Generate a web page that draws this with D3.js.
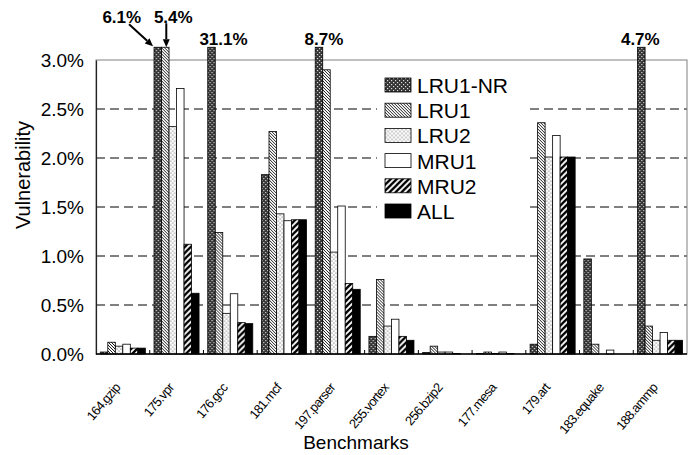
<!DOCTYPE html>
<html>
<head>
<meta charset="utf-8">
<script src="https://cdn.jsdelivr.net/npm/d3@7"></script>
<style>
  body { margin: 0; background: #fff; }
  text { font-family: Arial, "Liberation Sans", sans-serif; fill: #000; }
</style>
</head>
<body>
<div id="chart"></div>
<script>
'use strict';

var benchmarks = ["164.gzip", "175.vpr", "176.gcc", "181.mcf", "197.parser", "255.vortex",
                  "256.bzip2", "177.mesa", "179.art", "183.equake", "188.ammp"];
var series = ["LRU1-NR", "LRU1", "LRU2", "MRU1", "MRU2", "ALL"];

// vulnerability in percent, one value per benchmark
var lru1nr = [0.02, 6.1, 31.1, 1.83, 8.7, 0.18, 0.015, 0.005, 0.10, 0.97, 4.7];
var lru1   = [0.12, 5.4, 1.24, 2.27, 2.9, 0.76, 0.08, 0.02, 2.36, 0.10, 0.285];
var lru2   = [0.08, 2.32, 0.415, 1.43, 1.04, 0.285, 0.02, 0.005, 2.01, 0.0, 0.14];
var mru1   = [0.10, 2.71, 0.615, 1.36, 1.51, 0.355, 0.02, 0.02, 2.23, 0.04, 0.22];
var mru2   = [0.06, 1.12, 0.32, 1.37, 0.72, 0.18, 0.005, 0.005, 2.01, 0.0, 0.14];
var all    = [0.06, 0.62, 0.31, 1.37, 0.66, 0.14, 0.0, 0.0, 2.01, 0.0, 0.14];

var yTicks = [0, 0.5, 1.0, 1.5, 2.0, 2.5, 3.0];

var values = [lru1nr, lru1, lru2, mru1, mru2, all];

var W = 694, H = 455;
var plotL = 96, plotR = 687, plotT = 60, plotB = 354;
var barCap = 3.13; // bars above the axis are cut here

var svg = d3.select("#chart").append("svg")
    .attr("width", W)
    .attr("height", H);

// ---- patterns
var defs = svg.append("defs");

var p = defs.append("pattern").attr("id", "p0")
    .attr("patternUnits", "userSpaceOnUse").attr("width", 4).attr("height", 4);
p.append("rect").attr("width", 4).attr("height", 4).attr("fill", "#333");
p.append("rect").attr("x", 0).attr("y", 0).attr("width", 1.2).attr("height", 1.2).attr("fill", "#ddd");
p.append("rect").attr("x", 2).attr("y", 2).attr("width", 1.2).attr("height", 1.2).attr("fill", "#ddd");

p = defs.append("pattern").attr("id", "p1")
    .attr("patternUnits", "userSpaceOnUse").attr("width", 3).attr("height", 3);
p.append("rect").attr("width", 3).attr("height", 3).attr("fill", "#fff");
p.append("path").attr("d", "M0,0L3,3M-1,2L1,4M2,-1L4,1")
    .attr("stroke", "#000").attr("stroke-width", 0.9);

p = defs.append("pattern").attr("id", "p2")
    .attr("patternUnits", "userSpaceOnUse").attr("width", 4).attr("height", 4);
p.append("rect").attr("width", 4).attr("height", 4).attr("fill", "#fafafa");
p.append("circle").attr("cx", 1).attr("cy", 1).attr("r", 0.55).attr("fill", "#444");
p.append("circle").attr("cx", 3).attr("cy", 3).attr("r", 0.55).attr("fill", "#444");

p = defs.append("pattern").attr("id", "p4")
    .attr("patternUnits", "userSpaceOnUse").attr("width", 6).attr("height", 6);
p.append("rect").attr("width", 6).attr("height", 6).attr("fill", "#fff");
p.append("path").attr("d", "M-1,7L7,-1M-4,4L4,-4M2,10L10,2")
    .attr("stroke", "#000").attr("stroke-width", 2.3);

var fills = ["url(#p0)", "url(#p1)", "url(#p2)", "#fff", "url(#p4)", "#000"];

// ---- scales
var x0 = d3.scaleBand().domain(benchmarks).range([plotL, plotR]).padding(0);
var x1 = d3.scaleBand().domain(series).range([4.3, x0.bandwidth() - 4.4]).padding(0);
var y = d3.scaleLinear().domain([0, 3]).range([plotB, plotT]);

// ---- grid
svg.append("g").selectAll("line")
    .data(yTicks.filter(function(d) { return d > 0 && d < 3; }))
    .enter().append("line")
    .attr("x1", plotL).attr("x2", plotR)
    .attr("y1", function(d) { return y(d); })
    .attr("y2", function(d) { return y(d); })
    .attr("stroke", "#000")
    .attr("stroke-width", 1)
    .attr("stroke-dasharray", "9,5");

// frame
svg.append("rect")
    .attr("x", plotL).attr("y", plotT)
    .attr("width", plotR - plotL).attr("height", plotB - plotT)
    .attr("fill", "none").attr("stroke", "#808080").attr("stroke-width", 1);

// ---- bars
var groups = svg.append("g").selectAll("g")
    .data(benchmarks)
    .enter().append("g")
    .attr("transform", function(d) { return "translate(" + x0(d) + ",0)"; });

groups.selectAll("rect")
    .data(function(d, i) {
        return series.map(function(s, j) { return { s: s, j: j, v: values[j][i] }; });
    })
    .enter().append("rect")
    .attr("x", function(d) { return x1(d.s); })
    .attr("width", x1.bandwidth())
    .attr("y", function(d) { return y(Math.min(d.v, barCap)); })
    .attr("height", function(d) { return plotB - y(Math.min(d.v, barCap)); })
    .attr("fill", function(d) { return fills[d.j]; })
    .attr("stroke", "#000")
    .attr("stroke-width", 0.8);

// ---- axes
var yAxis = d3.axisLeft(y).tickValues(yTicks).tickSize(0).tickPadding(12)
    .tickFormat(function(d) { return d3.format(".1f")(d) + "%"; });
var gy = svg.append("g").attr("transform", "translate(" + plotL + ",0)").call(yAxis);
gy.select(".domain").attr("stroke", "#222").attr("stroke-width", 1.2);
gy.selectAll("text").style("font-size", "19px").attr("font-family", null);

// bottom axis with ticks at group boundaries, pointing inward
svg.append("line")
    .attr("x1", plotL).attr("x2", plotR)
    .attr("y1", plotB).attr("y2", plotB)
    .attr("stroke", "#000").attr("stroke-width", 1.6);
svg.append("g").selectAll("line")
    .data(benchmarks.slice(1))
    .enter().append("line")
    .attr("x1", function(d) { return x0(d); })
    .attr("x2", function(d) { return x0(d); })
    .attr("y1", plotB - 4).attr("y2", plotB)
    .attr("stroke", "#000");

svg.append("g").selectAll("text")
    .data(benchmarks)
    .enter().append("text")
    .attr("transform", function(d) {
        return "translate(" + (x0(d) + x0.bandwidth() / 2 - 2) + "," + (plotB + 34) + ") rotate(-50)";
    })
    .attr("text-anchor", "end")
    .style("font-size", "13px")
    .style("letter-spacing", "-0.7px")
    .text(function(d) { return d; });

svg.append("text")
    .attr("x", 356).attr("y", 449)
    .attr("text-anchor", "middle")
    .style("font-size", "19px")
    .text("Benchmarks");

svg.append("text")
    .attr("transform", "translate(30,175) rotate(-90)")
    .attr("text-anchor", "middle")
    .style("font-size", "20px")
    .text("Vulnerability");

// ---- legend (white box breaks the grid lines)
svg.append("rect")
    .attr("x", 377).attr("y", 72)
    .attr("width", 148).attr("height", 156)
    .attr("fill", "#fff");
var legend = svg.append("g").attr("transform", "translate(385,78)");
var li = legend.selectAll("g")
    .data(series)
    .enter().append("g")
    .attr("transform", function(d, i) { return "translate(0," + (i * 25.2) + ")"; });
li.append("rect")
    .attr("width", 26).attr("height", 14)
    .attr("fill", function(d, i) { return fills[i]; })
    .attr("stroke", "#000").attr("stroke-width", 0.8);
li.append("text")
    .attr("x", 32).attr("y", 15)
    .style("font-size", "21px")
    .text(function(d) { return d; });

// ---- labels for bars that run off the top
var fmt = function(v) { return d3.format(".1f")(v) + "%"; };
function barX(b, s) { return x0(b) + x1(s); }
var capY = y(barCap);

var callouts = [
    { b: "175.vpr", s: "LRU1-NR", dx: -36, dy: -24, arrow: "diag" },
    { b: "175.vpr", s: "LRU1", dx: 8, dy: -24, arrow: "down" },
    { b: "176.gcc", s: "LRU1-NR", dx: 12, dy: -2 },
    { b: "197.parser", s: "LRU1-NR", dx: 5, dy: -2 },
    { b: "188.ammp", s: "LRU1-NR", dx: -1, dy: -2 }
];

callouts.forEach(function(c) {
    var i = benchmarks.indexOf(c.b), j = series.indexOf(c.s);
    var cx = barX(c.b, c.s) + x1.bandwidth() / 2;
    svg.append("text")
        .attr("x", cx + c.dx).attr("y", capY + c.dy)
        .attr("text-anchor", "middle")
        .style("font-size", "17px")
        .style("font-weight", "bold")
        .text(fmt(values[j][i]));

    var tip, start;
    if (c.arrow === "diag") {
        tip = [barX(c.b, c.s) - 1, capY - 1];
        start = [tip[0] - 24, tip[1] - 22];
    } else if (c.arrow === "down") {
        tip = [cx + 1, capY];
        start = [tip[0], tip[1] - 24];
    } else {
        return;
    }
    var ang = Math.atan2(tip[1] - start[1], tip[0] - start[0]);
    var len = 8, half = 3.5;
    var bx = tip[0] - len * Math.cos(ang), by = tip[1] - len * Math.sin(ang);
    svg.append("line")
        .attr("x1", start[0]).attr("y1", start[1])
        .attr("x2", bx).attr("y2", by)
        .attr("stroke", "#000").attr("stroke-width", 2);
    svg.append("path")
        .attr("d", "M" + tip[0] + "," + tip[1] +
            "L" + (bx + half * Math.sin(ang)) + "," + (by - half * Math.cos(ang)) +
            "L" + (bx - half * Math.sin(ang)) + "," + (by + half * Math.cos(ang)) + "Z")
        .attr("fill", "#000");
});
</script>
</body>
</html>
